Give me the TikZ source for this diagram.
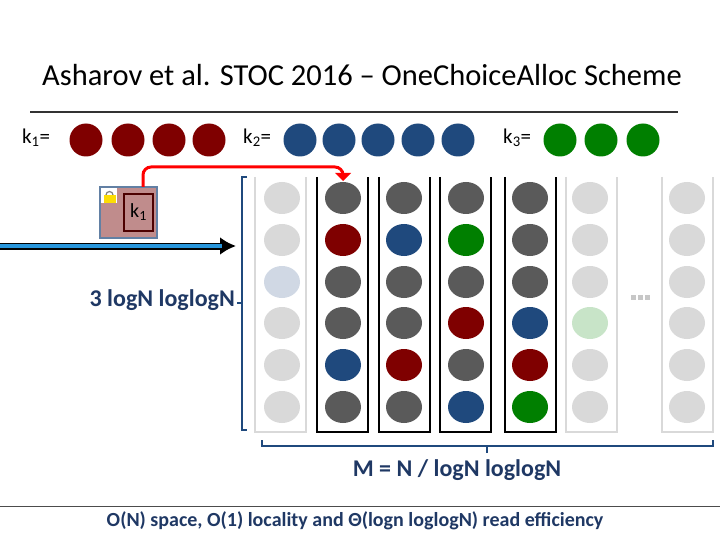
\documentclass[tikz,border=0pt]{standalone}
\usepackage{fontspec}
\setmainfont{Carlito}
\usetikzlibrary{arrows.meta,shapes.geometric}
\definecolor{dred}{HTML}{7F0000}
\definecolor{dblue}{HTML}{1F497D}
\definecolor{dgreen}{HTML}{007F00}
\definecolor{dgray}{HTML}{5A5A5A}
\definecolor{lgray}{HTML}{D9D9D9}
\definecolor{txtb}{HTML}{1F3864}
\definecolor{arrblue}{HTML}{2896DC}
\definecolor{pinkbox}{HTML}{C08C8C}
\definecolor{lblue}{HTML}{D0D8E4}
\definecolor{lgreen}{HTML}{C8E4C8}
\begin{document}
\begin{tikzpicture}[x=1pt,y=-1pt,
 ball/.style={ellipse,minimum width=36pt,minimum height=32pt,inner sep=0pt,draw=none},
 kball/.style={circle,minimum size=33pt,inner sep=0pt},
 lab/.style={font=\fontsize{21}{24}\selectfont}]
\useasboundingbox (0,0) rectangle (720,540);
\node[font=\fontsize{30.5}{34}\selectfont] (title) at (362,75) {Asharov et al. STOC 2016 -- OneChoiceAlloc Scheme};
\draw[line width=1.5pt,black!80] (30,112) -- (678,112);
% keys
\node[lab,anchor=west,inner sep=0pt] (k1) at (22,138) {k\textsubscript{1}=};
\foreach \x in {86,128,169,209} \node[kball,fill=dred] at (\x,140) {};
\node[lab,anchor=west,inner sep=0pt] (k2) at (243,138) {k\textsubscript{2}=};
\foreach \x in {300,339,378,418,458} \node[kball,fill=dblue] at (\x,140) {};
\node[lab,anchor=west,inner sep=0pt] (k3) at (503,138) {k\textsubscript{3}=};
\foreach \x in {560,601,643} \node[kball,fill=dgreen] at (\x,140) {};
% lock box
\draw[fill=pinkbox,draw=dblue!70,line width=1.5pt] (100,187) rectangle (157,238);
\node[draw=dred!60!black,line width=2pt,minimum width=29pt,minimum height=37pt,inner sep=0pt,font=\fontsize{20}{22}\selectfont] (kb) at (138.5,212.5) {k\textsubscript{1}};
\fill[white] (101,188) rectangle (117,203);
\draw[gray,line width=1.2pt] (106,195) arc[start angle=180,end angle=0,radius=3.5pt];
\fill[yellow!80!orange] (104,195) rectangle (116,203);
\coordinate (rs) at (143,187);
\coordinate (rt) at (343,181);
\draw[red,line width=3pt,rounded corners=8pt] (rs) -- (143,167) -- (343,167) -- (343,176);
\fill[red] (335,173) -- (351,173) -- (rt) -- cycle;
% blue arrow
\coordinate (ba) at (0,246); \coordinate (bb) at (236,246);
\draw[line width=7pt,black,-{Latex[length=16pt,width=18pt]}] (ba) -- (bb);
\draw[line width=3.5pt,arrblue] (0,246) -- (222,246);
% bins
\foreach \l/\c in {255/lgray,317/black,379/black,440/black,505/black,566/lgray,662/lgray}
  \draw[\c,line width=2.2pt] (\l,177) -- (\l,432) -- (\l+51,432) -- (\l+51,177);
\def\ys{{198,240,282,323,365,407}}
% column balls
\foreach \x/\cols in {282/{lgray,lgray,lblue,lgray,lgray,lgray},
  343/{dgray,dred,dgray,dgray,dblue,dgray},
  404/{dgray,dblue,dgray,dgray,dred,dgray},
  466/{dgray,dgreen,dgray,dred,dgray,dblue},
  530/{dgray,dgray,dgray,dblue,dred,dgreen},
  590/{lgray,lgray,lgray,lgreen,lgray,lgray},
  687/{lgray,lgray,lgray,lgray,lgray,lgray}}{
  \foreach \c [count=\i from 0] in \cols {
    \pgfmathsetmacro\yy{\ys[\i]}
    \node[ball,fill=\c] at (\x,\yy) {};
  }}
\foreach \x in {633,640,647} \fill[lgray!80!gray] (\x-2.5,295) rectangle (\x+2.5,300);
% left bracket
\draw[dblue,line width=2pt] (247,177) -- (242,177) -- (242,430) -- (247,430);
\draw[dblue,line width=2pt] (242,303) -- (237,303);
\node[anchor=east,text=txtb,font=\bfseries\fontsize{24}{27}\selectfont,inner sep=1pt] (h) at (236,300) {3 logN loglogN};
% bottom brace
\draw[dblue,line width=2pt] (262,440) -- (262,446) -- (713,446) -- (713,440);
\draw[dblue,line width=2pt] (487,446) -- (487,453);
\node[text=txtb,font=\bfseries\fontsize{24}{27}\selectfont] (m) at (457,470) {M = N / logN loglogN};
\draw[black!70,line width=1pt] (0,506) -- (720,506);
\node[text=txtb,font=\bfseries\fontsize{20}{22}\selectfont] (eff) at (355,521) {O(N) space, O(1) locality and Θ(logn loglogN) read efficiency};
\end{tikzpicture}
\end{document}
